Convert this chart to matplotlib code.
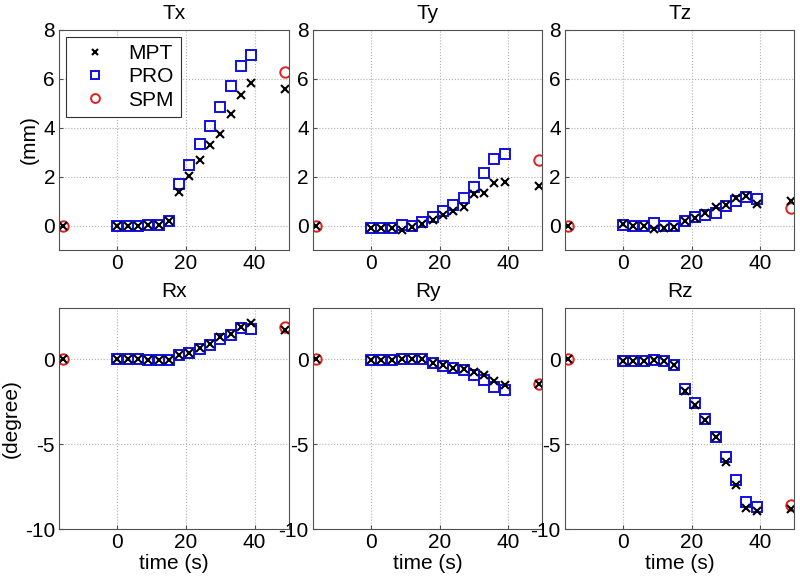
import matplotlib.pyplot as plt

plt.rcParams['font.family'] = ['Liberation Sans', 'DejaVu Sans']
plt.rcParams['font.size'] = 15
plt.rcParams['axes.unicode_minus'] = False

# sample times of MPT / PRO estimates
t = [0, 3, 6, 9, 12, 15, 18, 21, 24, 27, 30, 33, 36, 39]
# times of the two end-point estimates (SPM and MPT)
tEnds = [-16, 49]

names = ['Tx', 'Ty', 'Tz', 'Rx', 'Ry', 'Rz']

mpt = {
    'Tx': [0, 0, 0, 0.02, 0.04, 0.2, 1.39, 2.04, 2.69, 3.28, 3.76, 4.57, 5.33, 5.82],
    'Ty': [-0.08, -0.08, -0.08, -0.16, -0.05, 0.08, 0.24, 0.44, 0.6, 0.75, 1.28, 1.33, 1.74, 1.77],
    'Tz': [0.08, 0, 0, -0.14, -0.1, -0.05, 0.2, 0.31, 0.52, 0.75, 0.83, 1.13, 1.2, 0.9],
    'Rx': [0, 0, 0, -0.04, -0.02, -0.02, 0.26, 0.4, 0.66, 0.9, 1.29, 1.5, 1.92, 2.16],
    'Ry': [-0.04, -0.04, -0.04, 0, 0.04, 0.04, -0.2, -0.35, -0.49, -0.59, -0.73, -0.92, -1.27, -1.51],
    'Rz': [-0.08, -0.08, -0.08, -0.06, -0.08, -0.35, -1.84, -2.7, -3.6, -4.6, -6.02, -7.39, -8.76, -8.92],
}
pro = {
    'Tx': [0, 0, 0, 0.02, 0.05, 0.2, 1.69, 2.48, 3.35, 4.05, 4.83, 5.69, 6.53, 6.97],
    'Ty': [-0.08, -0.08, -0.08, 0.04, -0.03, 0.16, 0.35, 0.61, 0.84, 1.14, 1.6, 2.16, 2.73, 2.94],
    'Tz': [0.04, 0, 0, 0.1, 0, 0, 0.18, 0.34, 0.45, 0.52, 0.79, 1.02, 1.16, 1.09],
    'Rx': [0, 0, 0, -0.06, -0.04, -0.04, 0.24, 0.37, 0.63, 0.86, 1.2, 1.45, 1.82, 1.78],
    'Ry': [-0.04, -0.04, -0.04, 0, 0.04, 0.04, -0.24, -0.39, -0.53, -0.63, -0.92, -1.22, -1.65, -1.8],
    'Rz': [-0.08, -0.08, -0.08, -0.06, -0.08, -0.35, -1.76, -2.57, -3.51, -4.55, -5.78, -7.1, -8.43, -8.7],
}
# MPT values at the two end times
mptEnds = {
    'Tx': [0, 5.58], 'Ty': [0, 1.63], 'Tz': [0, 0.99],
    'Rx': [0, 1.73], 'Ry': [0, -1.45], 'Rz': [0, -8.82],
}
spmEnds = {
    'Tx': [0, 6.27], 'Ty': [0, 2.69], 'Tz': [0, 0.72],
    'Rx': [0, 1.88], 'Ry': [0, -1.45], 'Rz': [0, -8.57],
}

fig = plt.figure(figsize=(8, 5.82), dpi=100)

lefts = [0.074, 0.391, 0.706]
bottoms = [0.570, 0.091]
w, h = 0.287, 0.379

for i, name in enumerate(names):
    row, col = divmod(i, 3)
    ax = fig.add_axes([lefts[col], bottoms[row], w, h])
    ax.grid(True, linestyle=':', color='#b0b0b0', linewidth=0.8)
    ax.set_axisbelow(True)
    for sp in ax.spines.values():
        sp.set_color('#505050')

    ax.plot(t, pro[name], 's', mfc='none', mec='#1010e0', mew=1.4, ms=6.5, label='PRO')
    ax.plot(tEnds, spmEnds[name], 'o', mfc='none', mec='#e02020', mew=1.4, ms=7.5, label='SPM')
    ax.plot(t + tEnds, mpt[name] + mptEnds[name], 'x', color='black', mew=1.5, ms=5.5, label='MPT')

    ax.set_xlim(-17, 50)
    ax.set_xticks([0, 20, 40])
    if row == 0:
        ax.set_ylim(-1, 8)
        ax.set_yticks([0, 2, 4, 6, 8])
    else:
        ax.set_ylim(-10, 3)
        ax.set_yticks([-10, -5, 0])
        ax.set_xlabel('time (s)', labelpad=1)
    ax.tick_params(direction='in', length=3, pad=3, color='#505050')
    ax.set_title(name, fontsize=15, pad=8)

    if i == 0:
        ax.set_ylabel('(mm)', labelpad=3)
        handles, labels = ax.get_legend_handles_labels()
        order = [2, 0, 1]
        leg = ax.legend([handles[k] for k in order], [labels[k] for k in order],
                        loc='upper left', fancybox=False, edgecolor='#303030',
                        framealpha=1, borderaxespad=0.35, handletextpad=0.6,
                        labelspacing=0.2, borderpad=0.35, fontsize=15,
                        markerscale=0.85)
        leg.get_frame().set_linewidth(0.8)
    if i == 3:
        ax.set_ylabel('(degree)', labelpad=3)

fig.savefig('out.png', dpi=100)
